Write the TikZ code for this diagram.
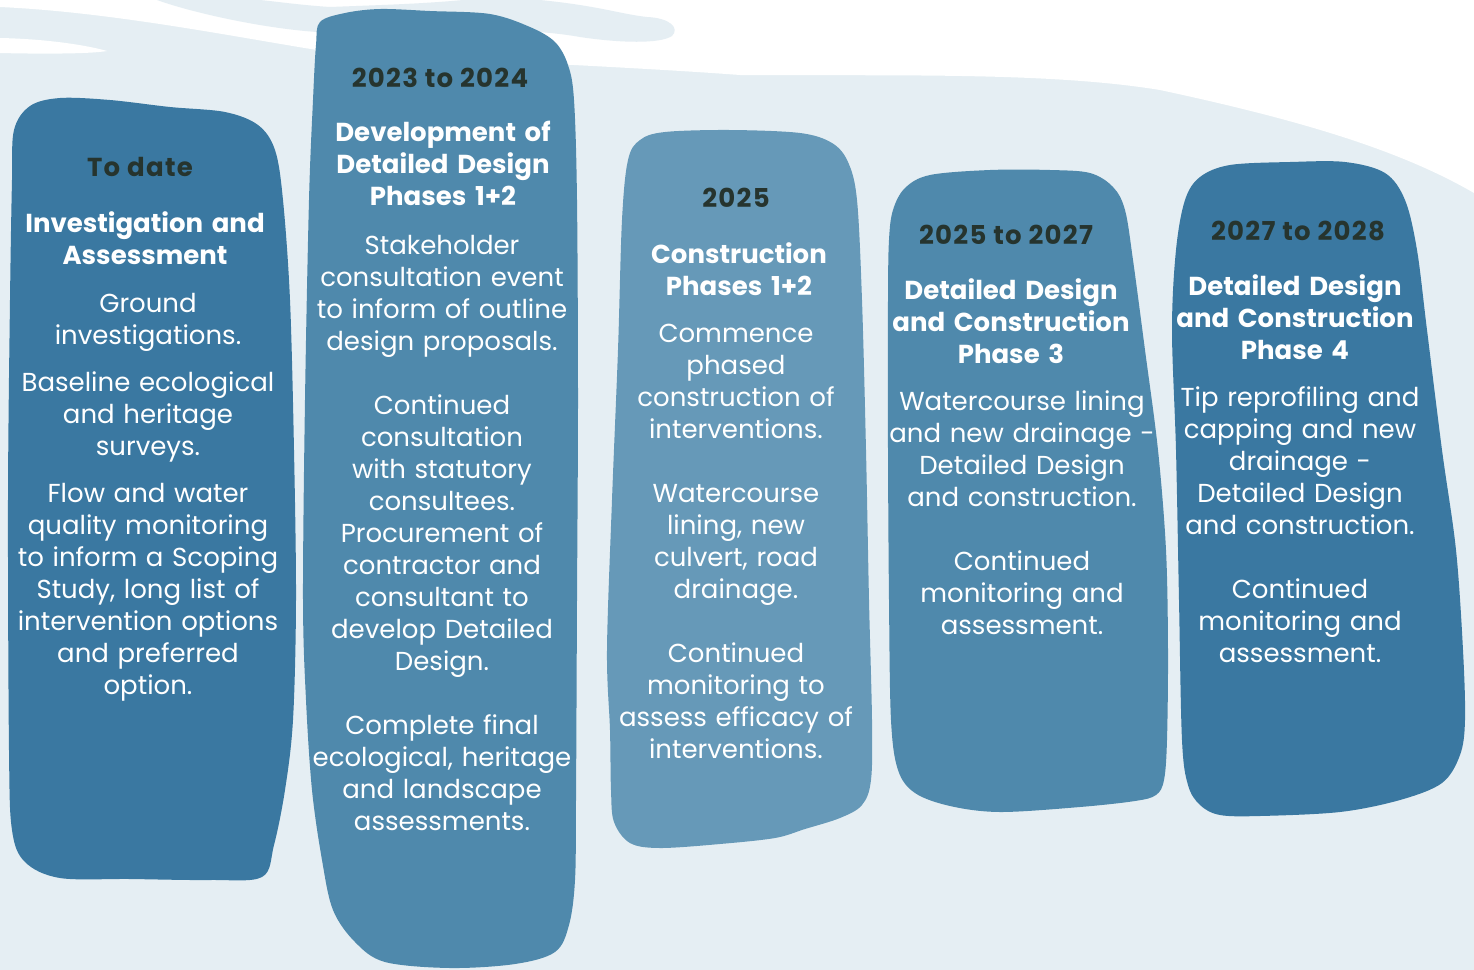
\documentclass[tikz,border=0pt]{standalone}
\usepackage{fontspec}
\setmainfont{Poppins}
\definecolor{paleblue}{RGB}{229,238,243}
\definecolor{deepblue}{RGB}{58,120,161}
\definecolor{midblue}{RGB}{79,137,172}
\definecolor{softblue}{RGB}{102,153,184}
\definecolor{darkslate}{RGB}{38,52,46}
\tikzset{
  year/.style={anchor=base, text=darkslate, inner sep=0pt,
    font=\fontsize{13}{16}\selectfont\bfseries\addfontfeature{LetterSpace=5}},
  heading/.style={anchor=base, text=white, align=center, text width=160pt,
    inner sep=0pt, font=\fontsize{13}{16}\selectfont\bfseries},
  body/.style={anchor=base, text=white, align=center, text width=160pt,
    inner sep=0pt, font=\fontsize{13}{16}\selectfont},
  blob/.style={smooth cycle, tension=0.55}
}
\begin{document}
\begin{tikzpicture}[x=0.5pt, y=-0.5pt]
        \useasboundingbox (0,0) rectangle (1474,970);
        \fill[paleblue] (0,0) rectangle (1474,970);

        % white streaks along the top
        \fill[white] (0,0) -- (0,7)
          .. controls (110,12) and (230,36) .. (317,50)
          .. controls (450,60) and (620,66) .. (740,75)
          .. controls (900,76) and (1050,72) .. (1160,90)
          .. controls (1300,120) and (1400,150) .. (1474,193)
          -- (1474,0) -- cycle;
        \fill[paleblue] (157,0) .. controls (190,12) and (260,28) .. (317,32)
          .. controls (420,30) and (520,26) .. (580,37)
          .. controls (620,43) and (660,44) .. (672,36)
          .. controls (680,28) and (670,18) .. (647,17)
          .. controls (620,14) and (600,6) .. (540,0)
          -- (463,0) .. controls (420,4) and (380,5) .. (330,7)
          .. controls (300,5) and (280,2) .. (260,0) -- cycle;
        \fill[white] (0,38) .. controls (50,39) and (90,46) .. (107,51)
          .. controls (90,54) and (40,54) .. (0,53) -- cycle;

        % the five phases
        \fill[deepblue] plot[blob] coordinates {(14,130) (30,106) (60,98) (110,100)
          (170,107) (225,112) (258,125) (275,150) (283,200) (290,300) (294,450)
          (296,600) (293,720) (285,790) (274,845) (262,877) (210,880) (130,879)
          (60,878) (25,862) (12,830) (9,750) (8,500) (10,300) (12,180)};
        \fill[midblue] plot[blob] coordinates {(320,22) (345,13) (380,9) (430,11)
          (490,14) (530,27) (555,42) (568,65) (574,100) (577,200) (578,400)
          (577,600) (576,800) (575,880) (569,925) (555,952) (515,964) (450,968)
          (385,962) (355,942) (333,910) (322,860) (312,790) (306,700) (303,600)
          (305,400) (309,200) (313,100) (316,45)};
        \fill[softblue] plot[blob] coordinates {(628,160) (640,140) (665,132)
          (730,130) (800,133) (832,143) (848,162) (857,200) (862,300) (866,450)
          (869,600) (872,720) (871,780) (862,805) (840,818) (805,829) (775,838)
          (720,844) (660,848) (630,843) (614,822) (611,790) (610,730) (607,650)
          (612,500) (618,350) (622,220)};
        \fill[midblue] plot[blob] coordinates {(893,210) (905,188) (930,175)
          (990,170) (1050,170) (1090,173) (1113,187) (1125,210) (1133,260)
          (1145,350) (1158,450) (1166,550) (1168,650) (1167,740) (1164,780)
          (1156,795) (1135,801) (1080,807) (1000,812) (950,806) (915,793)
          (898,770) (891,720) (889,600) (888,450) (888,300) (889,240)};
        \fill[deepblue] plot[blob] coordinates {(1185,200) (1200,177) (1230,165)
          (1290,162) (1345,162) (1385,173) (1405,200) (1417,250) (1427,330)
          (1442,450) (1456,550) (1463,650) (1465,720) (1460,755) (1442,783)
          (1400,800) (1340,812) (1260,816) (1220,815) (1200,805) (1188,785)
          (1182,740) (1179,600) (1176,450) (1172,330) (1176,250)};

        \node[year] (date1) at (140,176) {To date};
        \node[heading] (title1) at (145,232) {Investigation and\\Assessment};
        \node[body] (text1) at (148,312) {Ground\\investigations.\\[7.5pt]
          Baseline ecological\\and heritage\\surveys.\\[7.5pt]
          Flow and water\\quality monitoring\\to inform a Scoping\\Study, long list of\\
          intervention options\\and preferred\\option.};

        \node[year] (date2) at (440,87) {2023 to 2024};
        \node[heading] (title2) at (443,141) {Development of\\Detailed Design\\Phases 1+2};
        \node[body] (text2) at (442,254) {Stakeholder\\consultation event\\
          to inform of outline\\design proposals.\\[16pt]
          Continued\\consultation\\with statutory\\consultees.\\Procurement of\\
          contractor and\\consultant to\\develop Detailed\\Design.\\[16pt]
          Complete final\\ecological, heritage\\and landscape\\assessments.};

        \node[year] (date3) at (736,207) {2025};
        \node[heading] (title3) at (739,263) {Construction\\Phases 1+2};
        \node[body] (text3) at (736,342) {Commence\\phased\\construction of\\
          interventions.\\[16pt]
          Watercourse\\lining, new\\culvert, road\\drainage.\\[16pt]
          Continued\\monitoring to\\assess efficacy of\\interventions.};

        \node[year] (date4) at (1006,244) {2025 to 2027};
        \node[heading] (title4) at (1011,299) {Detailed Design\\and Construction\\Phase 3};
        \node[body] (text4) at (1022,410) {Watercourse lining\\and new drainage -\\
          Detailed Design\\and construction.\\[16pt]
          Continued\\monitoring and\\assessment.};

        \node[year] (date5) at (1298,240) {2027 to 2028};
        \node[heading] (title5) at (1295,295) {Detailed Design\\and Construction\\Phase 4};
        \node[body] (text5) at (1300,406) {Tip reprofiling and\\capping and new\\
          drainage -\\Detailed Design\\and construction.\\[16pt]
          Continued\\monitoring and\\assessment.};
      \end{tikzpicture}
\end{document}
